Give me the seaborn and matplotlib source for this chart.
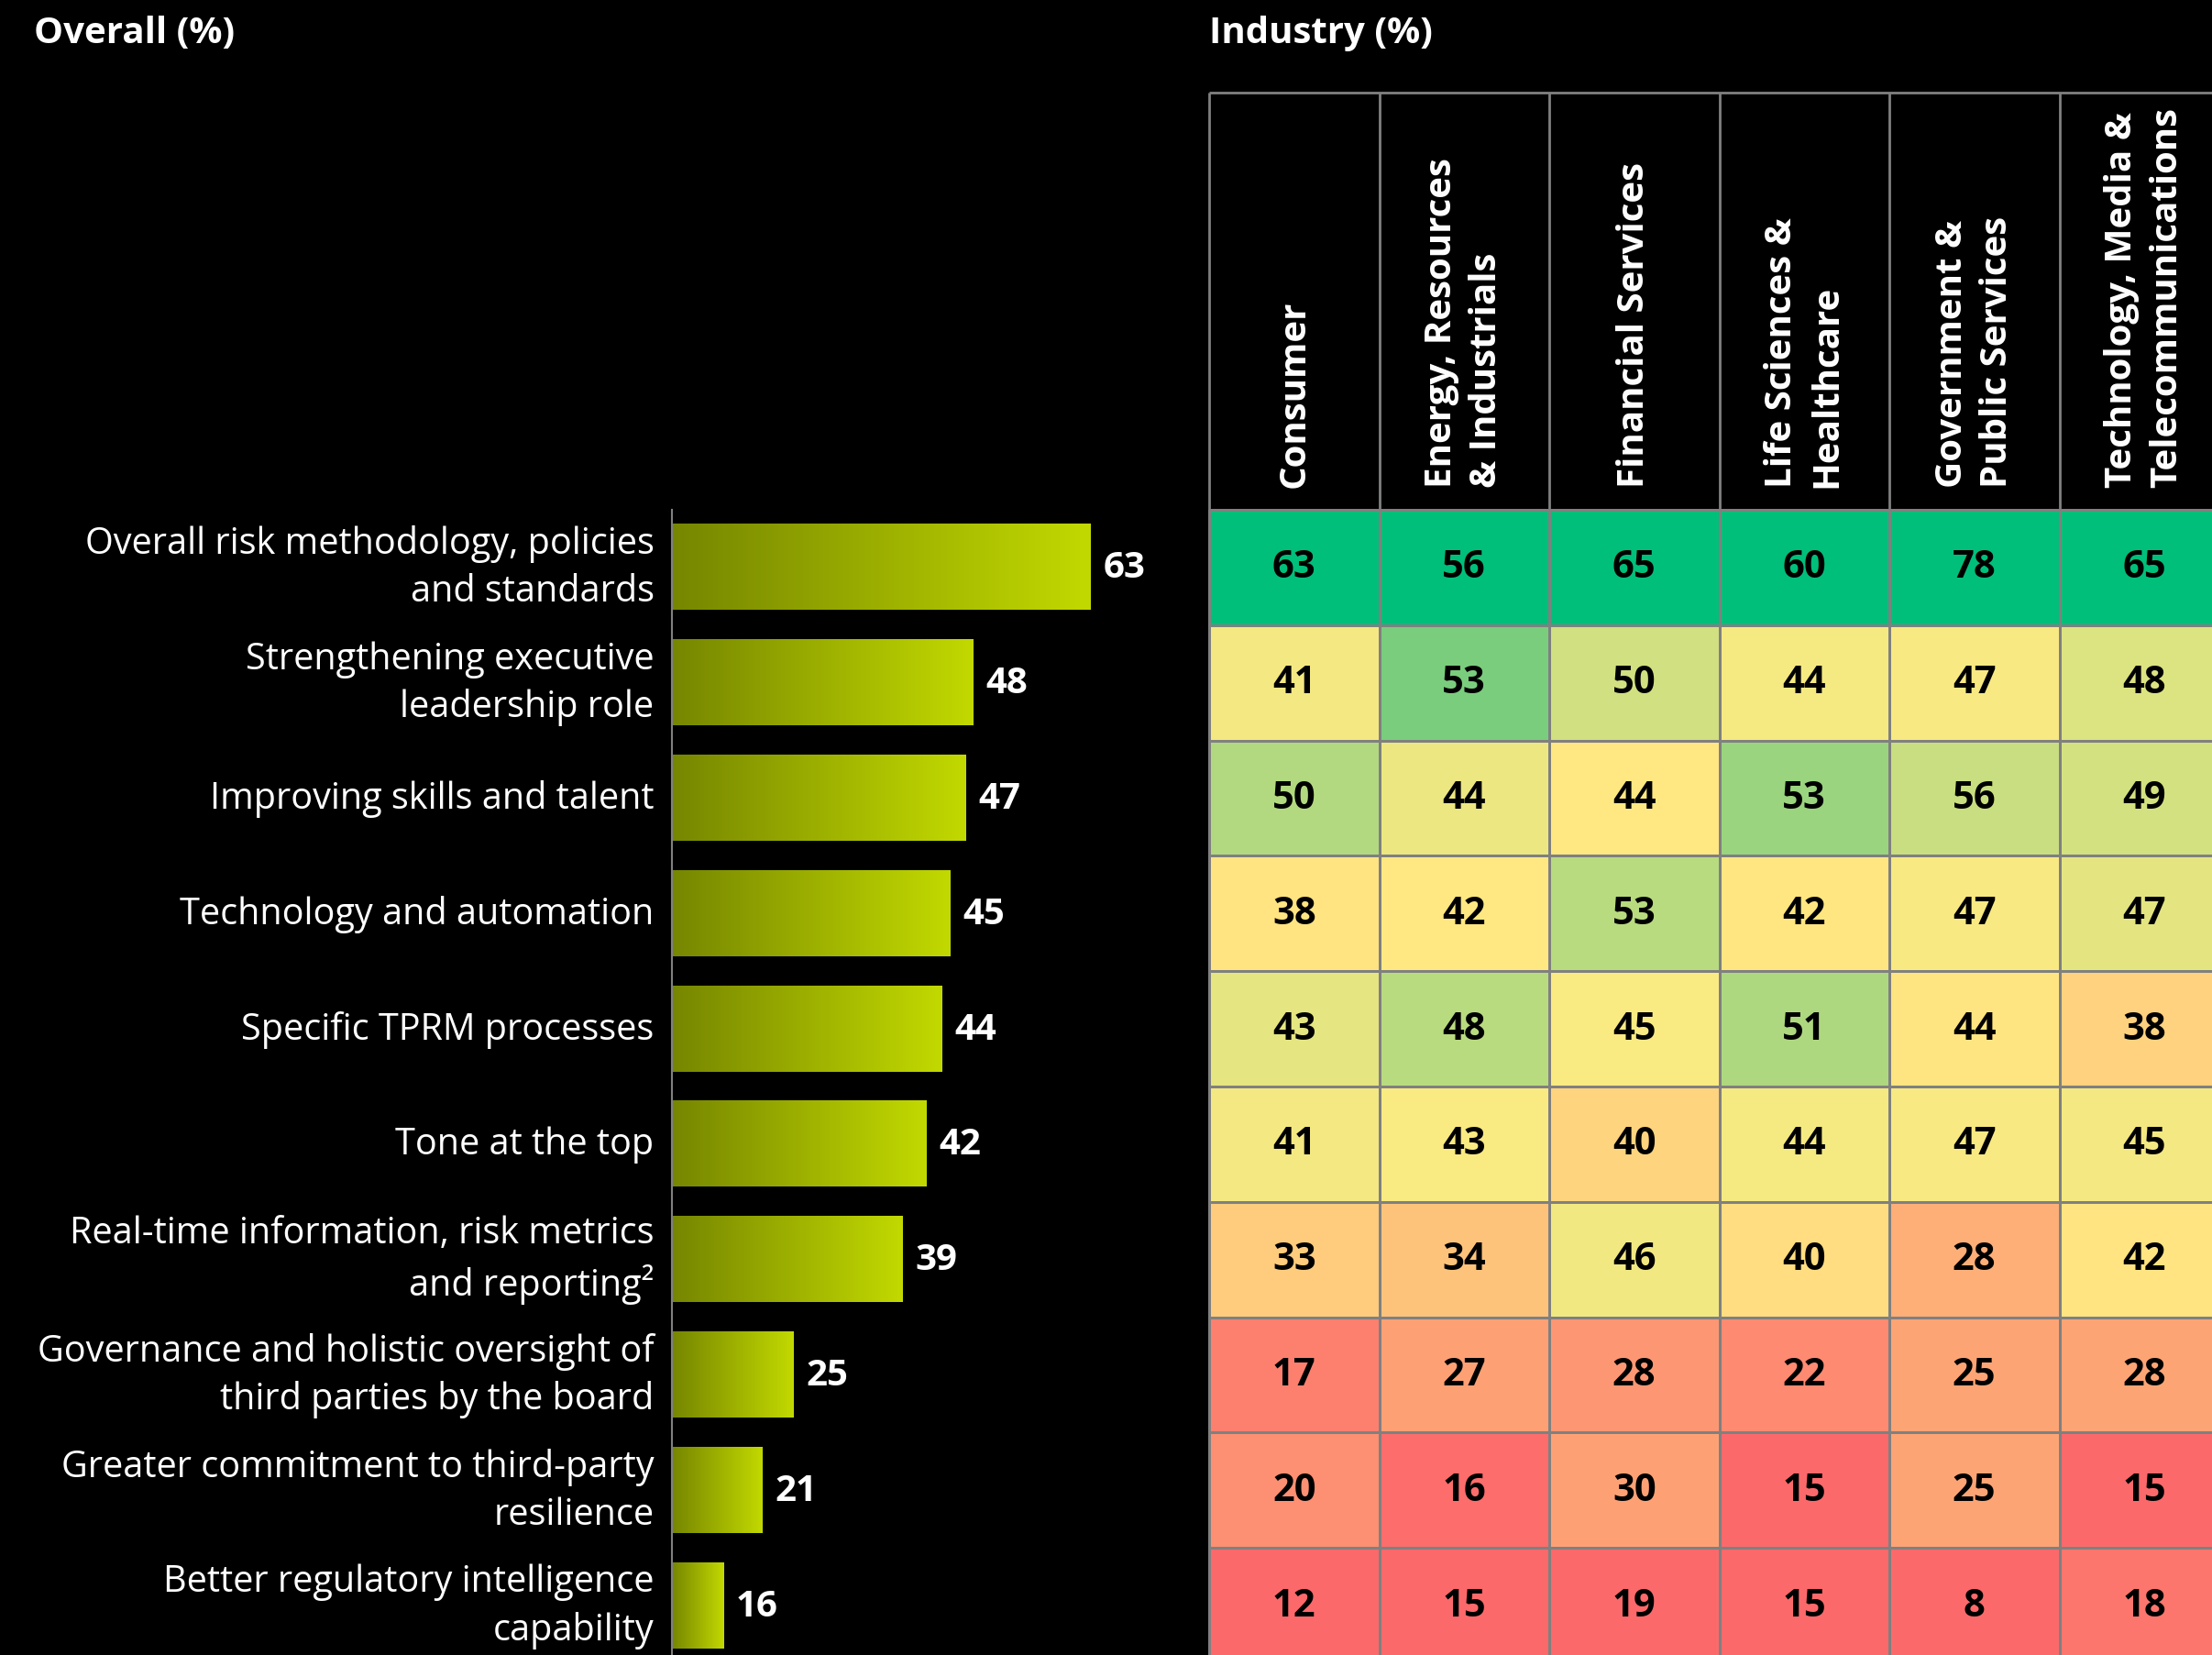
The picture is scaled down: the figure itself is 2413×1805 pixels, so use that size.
import numpy as np
import pandas as pd
import seaborn as sns
import matplotlib.pyplot as plt
from matplotlib.colors import LinearSegmentedColormap, ListedColormap

# ---- data ----
factors = [
    "Overall risk methodology, policies\nand standards",
    "Strengthening executive\nleadership role",
    "Improving skills and talent",
    "Technology and automation",
    "Specific TPRM processes",
    "Tone at the top",
    "Real-time information, risk metrics\nand reporting\u00b2",
    "Governance and holistic oversight of\nthird parties by the board",
    "Greater commitment to third-party\nresilience",
    "Better regulatory intelligence\ncapability",
]
overall = [63, 48, 47, 45, 44, 42, 39, 25, 21, 16]

industries = [
    "Consumer",
    "Energy, Resources\n& Industrials",
    "Financial Services",
    "Life Sciences &\nHealthcare",
    "Government &\nPublic Services",
    "Technology, Media &\nTelecommunications",
]
consumer = [63, 41, 50, 38, 43, 41, 33, 17, 20, 12]
energy = [56, 53, 44, 42, 48, 43, 34, 27, 16, 15]
financial = [65, 50, 44, 53, 45, 40, 46, 28, 30, 19]
life_sci = [60, 44, 53, 42, 51, 44, 40, 22, 15, 15]
government = [78, 47, 56, 47, 44, 47, 28, 25, 25, 8]
tech = [65, 48, 49, 47, 38, 45, 42, 28, 15, 18]

W, H = 2413, 1806
GRID = "#808080"

plt.rcParams['font.family'] = ['Open Sans', 'DejaVu Sans']
fig = plt.figure(figsize=(W / 100, H / 100), dpi=100, facecolor="black")


def px_axes(left, top, right, bottom):
    return fig.add_axes([left / W, 1 - bottom / H, (right - left) / W, (bottom - top) / H])


# ---- overall bars ----
ax = px_axes(733, 557, 1300, 1815)
ax.set_facecolor("black")
df = pd.DataFrame({"factor": factors, "pct": overall})
sns.barplot(data=df, x="pct", y="factor", orient="h", color="#9aae00",
            width=0.74, ax=ax)
ax.set_xlim(9.4, 76)
ax.set_ylim(9.5, -0.5)

# each bar gets its own dark-to-bright gradient
bar_cmap = LinearSegmentedColormap.from_list("olive", ["#768600", "#c2d900"])
grad = np.linspace(0, 1, 256).reshape(1, -1)
x_lo = ax.get_xlim()[0]
for p in ax.patches:
    x1 = p.get_x() + p.get_width()
    y0, h = p.get_y(), p.get_height()
    ax.imshow(grad, cmap=bar_cmap, extent=[x_lo, x1, y0 + h, y0],
              aspect="auto", zorder=2, interpolation="bicubic")
    p.set_facecolor("none")
ax.set_xlim(9.4, 76)
ax.set_ylim(9.5, -0.5)

ax.bar_label(ax.containers[0], labels=[str(v) for v in overall], padding=10,
             color="white", fontsize=29, fontweight="bold")

for s in ["top", "right", "bottom"]:
    ax.spines[s].set_visible(False)
ax.spines["left"].set_color(GRID)
ax.spines["left"].set_linewidth(1.5)
ax.set_xticks([])
ax.set_xlabel("")
ax.set_ylabel("")
ax.tick_params(axis="y", length=0, pad=14, labelsize=28.5, labelcolor="white")
for t in ax.get_yticklabels():
    t.set_linespacing(1.38)
    t.set_va("center")

# ---- industry heatmap ----
hm = pd.DataFrame(
    {industries[0]: consumer, industries[1]: energy, industries[2]: financial,
     industries[3]: life_sci, industries[4]: government, industries[5]: tech},
    index=factors,
)


def col_scale(s):
    # 3-colour scale per column: min -> red, median -> yellow, max -> green
    lo, mid, hi = s.min(), s.median(), s.max()
    return s.apply(lambda v: 0.5 * (v - lo) / (mid - lo) if v <= mid
                   else 0.5 + 0.5 * (v - mid) / (hi - mid))


shade = hm.apply(col_scale)
heat_cmap = LinearSegmentedColormap.from_list(
    "rag", ["#fc696b", "#ffeb82", "#55c47b"])
top_row = np.zeros(hm.shape, dtype=bool)
top_row[0, :] = True

cell_w = 185.5
head_h = (557 - 102) / 125.8
ax2 = px_axes(1319, 102, 1319 + 6 * cell_w, 1815)
annot_style = dict(fontsize=30, fontweight="bold", color="black")
sns.heatmap(shade, mask=top_row, cmap=heat_cmap, vmin=0, vmax=1, annot=hm,
            fmt="d", cbar=False, linewidths=2, linecolor=GRID,
            annot_kws=annot_style, ax=ax2)
sns.heatmap(shade, mask=~top_row, cmap=ListedColormap(["#00bf7a"]), annot=hm,
            fmt="d", cbar=False, linewidths=2, linecolor=GRID,
            annot_kws=annot_style, ax=ax2)
for c in ax2.collections:
    c.set_clip_on(False)
ax2.set_xlim(0, 6)
ax2.set_ylim(10, -head_h)
ax2.set_facecolor("black")
for s in ax2.spines.values():
    s.set_visible(False)
ax2.set_xticks([])
ax2.set_yticks([])
ax2.set_xlabel("")
ax2.set_ylabel("")

ax2.vlines(range(7), -head_h, 0, color=GRID, lw=2, clip_on=False)
ax2.hlines([-head_h, 0], 0, 6, color=GRID, lw=2, clip_on=False)
for j, name in enumerate(industries):
    ax2.text(j + 0.5, -0.2, name, rotation=90, ha="center", va="bottom",
             multialignment="left", color="white", fontsize=29,
             fontweight="bold", linespacing=1.33)

# ---- titles ----
fig.text(37 / W, 1 - 47 / H, "Overall (%)", ha="left", va="baseline",
         color="white", fontsize=29, fontweight="bold")
fig.text(1319 / W, 1 - 47 / H, "Industry (%)", ha="left", va="baseline",
         color="white", fontsize=29, fontweight="bold")

fig.savefig("out.png", dpi=100, facecolor="black")
